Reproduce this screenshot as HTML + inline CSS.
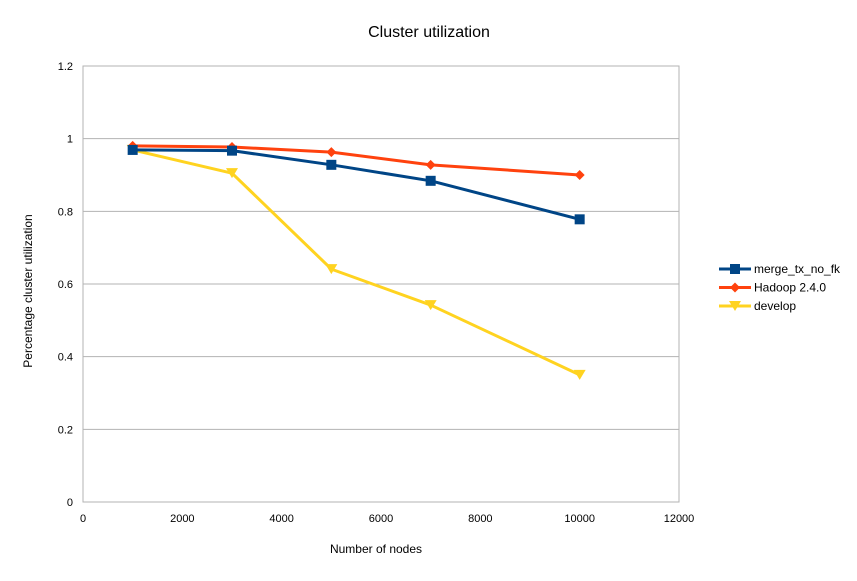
<!DOCTYPE html>
<html><head><meta charset="utf-8"><style>
body{margin:0;background:#fff;}
svg text{font-family:"Liberation Sans",sans-serif;}
</style></head><body>
<svg id="chart" width="857" height="576" xmlns="http://www.w3.org/2000/svg">
<rect width="857" height="576" fill="#fff"/>
<text x="429" y="37" font-size="16" text-anchor="middle" fill="#000">Cluster utilization</text>
<text x="376" y="553" font-size="12" text-anchor="middle">Number of nodes</text>
<text transform="translate(32,291) rotate(-90)" font-size="12" text-anchor="middle">Percentage cluster utilization</text>
<g id="grid"></g><g id="series"></g><g id="legend"></g>
</svg>
<script>
const xValues=[1000,3000,5000,7000,10000];
const mergeValues=[0.969,0.967,0.928,0.884,0.778];
const hadoopValues=[0.98,0.977,0.963,0.928,0.90];
const developValues=[0.969,0.905,0.641,0.542,0.35];
const xTicks=[0,2000,4000,6000,8000,10000,12000];
const yTicks=[0,0.2,0.4,0.6,0.8,1,1.2];
const seriesNames=["merge_tx_no_fk","Hadoop 2.4.0","develop"];
const NS="http://www.w3.org/2000/svg";
const X0=83,X1=679,Y0=502,Y1=66;
const xs=v=>X0+(v/12000)*(X1-X0);
const ys=v=>Y0-(v/1.2)*(Y0-Y1);
function mk(t,a,p){const e=document.createElementNS(NS,t);for(const k in a)e.setAttribute(k,a[k]);p.appendChild(e);return e;}
const grid=document.getElementById('grid');
yTicks.forEach(v=>{
 const l=mk('line',{x1:X0,x2:X1,y1:ys(v),y2:ys(v),stroke:'#b3b3b3','stroke-width':1},grid);
 
 
 const t=mk('text',{x:X0-10,y:ys(v)+4,'font-size':11,'text-anchor':'end'},grid);t.textContent=String(v);
 
 
});
xTicks.forEach(v=>{
 const t=mk('text',{x:xs(v),y:Y0+20,'font-size':11,'text-anchor':'middle'},grid);t.textContent=String(v);
 
 
});
const fr=mk('rect',{x:X0,y:Y1,width:X1-X0,height:Y0-Y1,fill:'none',stroke:'#b3b3b3'},grid);


function marker(kind,x,y,c,p){
 if(kind==='sq')return mk('rect',{x:x-5,y:y-5,width:10,height:10,fill:c},p);
 if(kind==='dia')return mk('polygon',{points:`${x},${y-5} ${x+5},${y} ${x},${y+5} ${x-5},${y}`,fill:c},p);
 return mk('polygon',{points:`${x-6},${y-5} ${x+6},${y-5} ${x},${y+5}`,fill:c},p);
}
const sg=document.getElementById('series');
const defs=[[mergeValues,'#004586','sq'],[hadoopValues,'#ff420e','dia'],[developValues,'#ffd320','tri']];
[2,1,0].forEach(i=>{
 const [vals,c,kind]=defs[i];
 const g=mk('g',{},sg);
 
 
 const pl=mk('polyline',{points:vals.map((v,j)=>xs(xValues[j])+','+ys(v)).join(' '),fill:'none',stroke:c,'stroke-width':3,'stroke-linejoin':'round'},g);
 
 
 vals.forEach((v,j)=>{const m=marker(kind,xs(xValues[j]),ys(v),c,g);
  
  });
});
const lg=document.getElementById('legend');
defs.forEach(([vals,c,kind],i)=>{
 const y=269+i*18.5;
 const g=mk('g',{},lg);
 
 
 mk('line',{x1:719,x2:751,y1:y,y2:y,stroke:c,'stroke-width':3},g);
 marker(kind,735,y,c,g);
 const t=mk('text',{x:754,y:y+4,'font-size':12},g);t.textContent=seriesNames[i];
});
</script>
</body></html>
